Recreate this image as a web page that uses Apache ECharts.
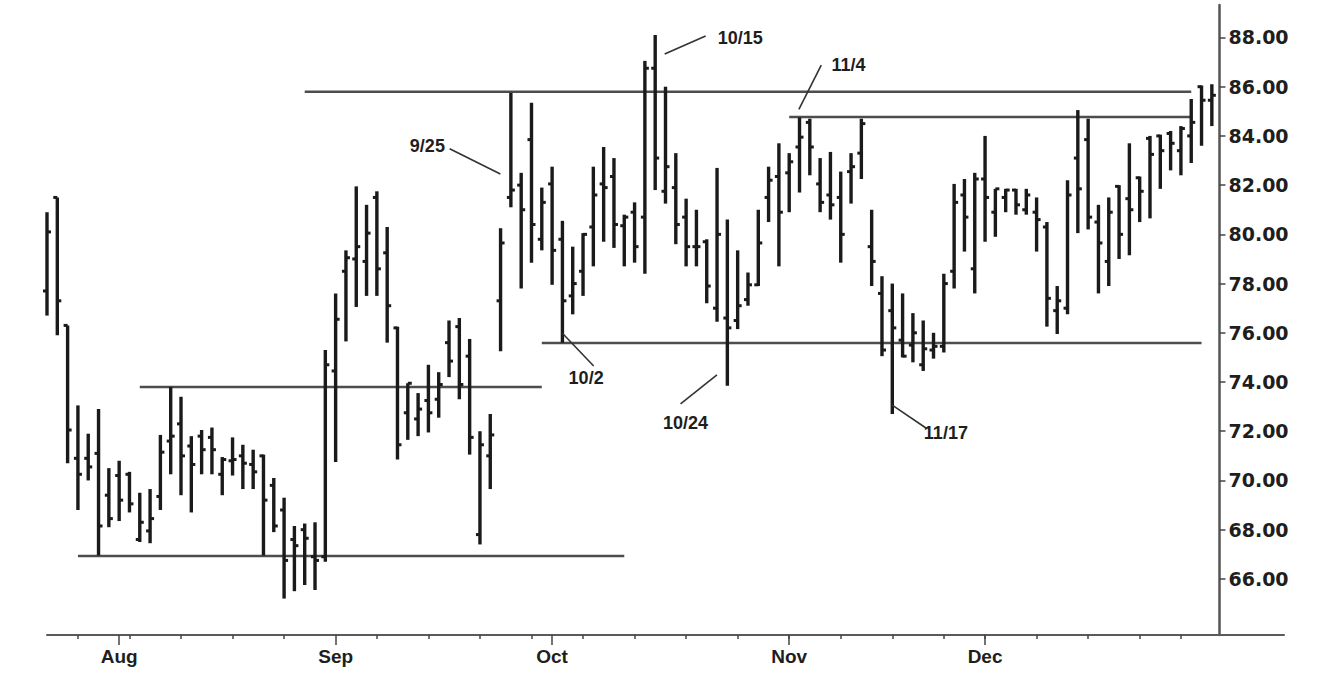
<!DOCTYPE html>
<html><head><meta charset="utf-8">
<script src="https://cdn.jsdelivr.net/npm/echarts@6/dist/echarts.min.js"></script>
<style>html,body{margin:0;padding:0;background:#fff}#chart{width:1320px;height:676px}</style>
</head><body><div id="chart"></div>
<script>
// ---- data (daily OHLC) ----
const dates = [
'2003-07-23','2003-07-24','2003-07-25','2003-07-28','2003-07-29','2003-07-30','2003-07-31',
'2003-08-01','2003-08-04','2003-08-05','2003-08-06','2003-08-07','2003-08-08','2003-08-11','2003-08-12','2003-08-13','2003-08-14','2003-08-15','2003-08-18','2003-08-19','2003-08-20','2003-08-21','2003-08-22','2003-08-25','2003-08-26','2003-08-27','2003-08-28','2003-08-29',
'2003-09-02','2003-09-03','2003-09-04','2003-09-05','2003-09-08','2003-09-09','2003-09-10','2003-09-11','2003-09-12','2003-09-15','2003-09-16','2003-09-17','2003-09-18','2003-09-19','2003-09-22','2003-09-23','2003-09-24','2003-09-25','2003-09-26','2003-09-29','2003-09-30',
'2003-10-01','2003-10-02','2003-10-03','2003-10-06','2003-10-07','2003-10-08','2003-10-09','2003-10-10','2003-10-13','2003-10-14','2003-10-15','2003-10-16','2003-10-17','2003-10-20','2003-10-21','2003-10-22','2003-10-23','2003-10-24','2003-10-27','2003-10-28','2003-10-29','2003-10-30','2003-10-31',
'2003-11-03','2003-11-04','2003-11-05','2003-11-06','2003-11-07','2003-11-10','2003-11-11','2003-11-12','2003-11-13','2003-11-14','2003-11-17','2003-11-18','2003-11-19','2003-11-20','2003-11-21','2003-11-24','2003-11-25','2003-11-26','2003-11-28',
'2003-12-01','2003-12-02','2003-12-03','2003-12-04','2003-12-05','2003-12-08','2003-12-09','2003-12-10','2003-12-11','2003-12-12','2003-12-15','2003-12-16','2003-12-17','2003-12-18','2003-12-19','2003-12-22','2003-12-23','2003-12-24','2003-12-26','2003-12-29','2003-12-30','2003-12-31',
'2004-01-02'];
const open = [
77.7,81.5,76.3,70.9,70.9,71.1,69.4,
70.2,70.25,67.6,67.95,69.35,71.6,72.3,71.4,71.8,71.75,70.25,70.8,71.0,70.65,71.0,69.8,68.8,67.6,68.0,66.9,66.9,
74.45,78.5,79.0,78.9,81.5,79.25,76.2,72.75,72.5,73.25,73.3,75.6,76.25,75.05,67.8,71.0,77.3,81.5,82.0,83.85,79.8,
82.05,79.8,77.5,78.5,80.3,82.05,82.35,80.35,80.9,80.7,86.75,81.75,81.9,80.7,79.5,79.7,77.0,76.6,76.5,77.35,77.95,81.5,82.35,
82.5,83.55,84.55,82.05,81.6,81.5,82.55,83.3,79.5,77.6,76.9,75.7,75.5,74.7,75.3,75.45,78.5,81.6,78.6,
82.25,80.9,81.5,81.8,81.0,80.9,80.3,76.9,77.0,83.1,83.85,80.5,78.9,81.95,81.45,82.3,83.9,84.0,84.1,83.4,84.0,86.0,
85.45];
const high = [
80.9,81.5,76.3,73.05,71.9,72.9,70.5,
70.8,70.35,69.5,69.65,71.85,73.8,73.4,71.8,72.05,72.15,70.95,71.75,71.45,71.25,71.05,70.1,69.3,68.15,68.25,68.3,75.3,
77.6,79.35,81.95,81.2,81.75,80.3,76.25,73.95,73.55,74.7,74.4,76.5,76.6,75.75,72.0,72.7,80.25,85.75,82.5,85.35,81.9,
82.75,80.55,79.5,80.05,82.75,83.55,83.1,80.8,81.3,87.05,88.1,86.0,83.3,81.45,81.0,79.8,82.7,80.6,79.35,78.45,81.0,82.75,83.7,
83.3,84.75,84.7,83.1,83.35,82.55,83.3,84.7,81.0,78.3,78.0,77.6,76.8,76.5,76.0,78.4,82.05,82.25,82.5,
84.0,81.85,81.85,81.85,81.85,81.5,80.5,77.9,82.2,85.05,84.7,81.2,81.5,82.0,83.7,82.35,84.0,84.05,84.2,84.4,85.5,86.05,
86.1];
const low = [
76.7,75.9,70.7,68.8,70.0,66.95,68.1,
68.35,68.7,67.5,67.45,68.8,70.25,69.4,68.7,70.25,70.25,69.4,70.2,69.65,69.65,66.95,67.9,65.2,65.5,65.75,65.55,66.7,
70.75,75.65,77.05,77.5,77.5,75.6,70.85,71.65,71.8,71.95,72.55,74.2,73.3,71.05,67.4,69.65,75.25,81.1,77.8,78.85,79.35,
77.95,75.6,76.75,77.5,78.7,79.7,79.45,78.7,78.85,78.4,81.8,81.25,79.6,78.7,78.7,77.2,76.45,73.85,76.15,77.1,77.9,80.5,78.7,
80.9,81.7,82.4,80.9,80.6,78.85,81.25,82.25,77.9,75.05,72.7,75.0,74.8,74.45,74.95,75.2,77.8,79.3,77.6,
79.7,79.9,80.9,80.8,80.8,79.3,76.25,75.95,76.75,80.05,80.2,77.6,77.9,79.0,79.15,80.5,80.65,81.85,82.6,82.4,82.9,83.6,
84.4];
const close = [
80.1,77.3,72.05,70.25,70.55,68.15,68.45,
69.2,69.05,68.3,68.45,71.15,71.8,71.0,70.65,71.25,71.25,70.85,70.85,70.7,70.35,69.2,68.15,66.75,67.35,67.65,66.75,74.7,
76.55,79.05,79.5,80.05,78.6,77.1,71.45,73.95,72.9,72.75,73.9,74.85,73.9,71.75,71.45,71.85,79.65,81.8,81.0,80.4,81.3,
79.35,77.3,78.0,80.0,81.6,81.9,80.4,80.7,79.5,86.75,83.1,82.75,80.4,79.5,79.5,77.9,80.0,76.2,77.1,77.95,79.65,82.2,80.9,
82.95,83.95,83.55,81.3,81.2,80.0,82.75,84.5,78.9,75.3,76.2,75.05,76.0,75.35,75.45,78.0,81.3,80.7,82.25,
81.5,81.85,81.8,81.2,81.6,80.6,77.4,77.3,81.6,81.85,80.7,79.65,80.9,80.0,81.0,81.75,83.25,83.4,83.7,84.3,84.55,85.45,
85.65];
const monthLabels = {'2003-08-01':'Aug','2003-09-02':'Sep','2003-10-01':'Oct','2003-11-03':'Nov','2003-12-01':'Dec'};
const yTicks = [66,68,70,72,74,76,78,80,82,84,86,88];
// horizontal support / resistance lines: price level, first and last day
const levelValues = [66.93, 73.80, 85.79, 84.77, 75.59];
const levelFrom   = ['2003-07-28','2003-08-05','2003-08-27','2003-11-03','2003-09-30'];
const levelTo     = ['2003-10-10','2003-09-30','2003-12-30','2003-12-30','2003-12-31'];
// annotations: label, text anchor [day index, price], leader start, leader end
const annoText = ['9/25','10/2','10/15','11/4','10/24','11/17'];
const annoAt   = [[36.9,83.59],[52.3,74.16],[67.25,87.99],[77.76,86.90],[61.95,72.34],[87.2,71.94]];
const annoFrom = [[39.06,83.48],[50.0,75.98],[59.92,87.33],[72.94,85.08],[64.99,74.29],[81.96,73.07]];
const annoTo   = [[43.98,82.45],[53.03,74.65],[63.89,88.06],[75.11,86.88],[61.46,73.11],[85.3,72.12]];

// ---- chart ----
const EXTRA = 7; // empty trading-day slots to the right (axis runs past the price scale)
const cats = dates.concat(Array.from({length: EXTRA}, (_, k) => 'pad' + k));
const nCats = cats.length;
const isMonday = i => i < dates.length && new Date(dates[i] + 'T00:00:00Z').getUTCDay() === 1;
const isMonthStart = i => i < dates.length && monthLabels[dates[i]] !== undefined;
const ohlc = dates.map((d, i) => [i, open[i], high[i], low[i], close[i]]);
const levels = levelValues.map((v, k) => [dates.indexOf(levelFrom[k]), dates.indexOf(levelTo[k]), v]);
const annos = annoText.map((t, k) => [annoAt[k][0], annoAt[k][1], annoFrom[k][0], annoFrom[k][1], annoTo[k][0], annoTo[k][1]]);
const INK = '#1a1a1a';
const GRID_W = 1237;

const chart = echarts.init(document.getElementById('chart'), null, {renderer: 'svg'});
chart.setOption({
  animation: false,
  backgroundColor: '#fff',
  grid: {left: 47, right: 36, top: 5, bottom: 41},
  xAxis: [
    { type: 'category', data: cats, boundaryGap: false, position: 'bottom',
      axisLine: {show: true, onZero: false, lineStyle: {color: '#5a5a5a', width: 2}},
      axisTick: {show: true, interval: (i) => isMonday(i), length: 4, lineStyle: {color: '#444', width: 1.5}},
      axisLabel: {show: false}, splitLine: {show: false} },
    { type: 'category', data: cats, boundaryGap: false, position: 'bottom',
      axisLine: {show: false, onZero: false},
      axisTick: {show: true, interval: (i) => isMonthStart(i), length: 10, lineStyle: {color: '#444', width: 1.5}},
      axisLabel: {show: true, interval: (i) => isMonthStart(i), formatter: v => monthLabels[v] || '',
        margin: 12, color: '#1e1e1e', fontWeight: 'bold', fontSize: 19, fontFamily: 'Liberation Sans'},
      splitLine: {show: false} },
    { type: 'value', min: 0, max: nCats - 1, show: false, axisLine: {onZero: false} }
  ],
  yAxis: {
    type: 'value', position: 'right', offset: -((nCats - 1) - 113.74) * (GRID_W / (nCats - 1)),
    min: 63.72, max: 89.32, scale: true,
    axisLine: {show: true, onZero: false, lineStyle: {color: '#555', width: 2.5}},
    axisTick: {show: true, customValues: yTicks, length: 6, lineStyle: {color: '#444', width: 1.5}},
    axisLabel: {show: true, customValues: yTicks, formatter: v => v.toFixed(2), margin: 9,
      color: '#1e1e1e', fontWeight: 'bold', fontSize: 19, fontFamily: 'DejaVu Sans'},
    splitLine: {show: false}
  },
  series: [
    { type: 'custom', name: 'levels', xAxisIndex: 2, yAxisIndex: 0, clip: false,
      data: levels, encode: {x: [0, 1], y: 2},
      renderItem: function (params, api) {
        const a = api.coord([api.value(0), api.value(2)]);
        const b = api.coord([api.value(1), api.value(2)]);
        return {type: 'line', shape: {x1: a[0], y1: a[1], x2: b[0], y2: b[1]},
          style: {stroke: '#4d4d4d', lineWidth: 2.5}};
      } },
    { type: 'custom', name: 'OHLC', xAxisIndex: 0, yAxisIndex: 0,
      data: ohlc, encode: {x: 0, y: [1, 2, 3, 4]},
      renderItem: function (params, api) {
        const x = api.value(0);
        const pO = api.coord([x, api.value(1)]);
        const pH = api.coord([x, api.value(2)]);
        const pL = api.coord([x, api.value(3)]);
        const pC = api.coord([x, api.value(4)]);
        const t = 4;
        return {type: 'group', children: [
          {type: 'line', shape: {x1: pH[0], y1: pH[1], x2: pL[0], y2: pL[1]}, style: {stroke: INK, lineWidth: 3.4}},
          {type: 'line', shape: {x1: pO[0] - t, y1: pO[1], x2: pO[0], y2: pO[1]}, style: {stroke: INK, lineWidth: 3}},
          {type: 'line', shape: {x1: pC[0], y1: pC[1], x2: pC[0] + t, y2: pC[1]}, style: {stroke: INK, lineWidth: 3}}
        ]};
      } },
    { type: 'custom', name: 'annotations', xAxisIndex: 2, yAxisIndex: 0, clip: false,
      data: annos, encode: {x: [0, 2, 4], y: [1, 3, 5]},
      renderItem: function (params, api) {
        const tp = api.coord([api.value(0), api.value(1)]);
        const a = api.coord([api.value(2), api.value(3)]);
        const b = api.coord([api.value(4), api.value(5)]);
        return {type: 'group', children: [
          {type: 'line', shape: {x1: a[0], y1: a[1], x2: b[0], y2: b[1]}, style: {stroke: '#333', lineWidth: 1.6}},
          {type: 'text', x: tp[0], y: tp[1], style: {text: annoText[params.dataIndex], fill: '#1e1e1e',
            fontWeight: 'bold', fontSize: 18, fontFamily: 'Liberation Sans', align: 'center', verticalAlign: 'middle'}}
        ]};
      } }
  ]
});
</script>
</body></html>
